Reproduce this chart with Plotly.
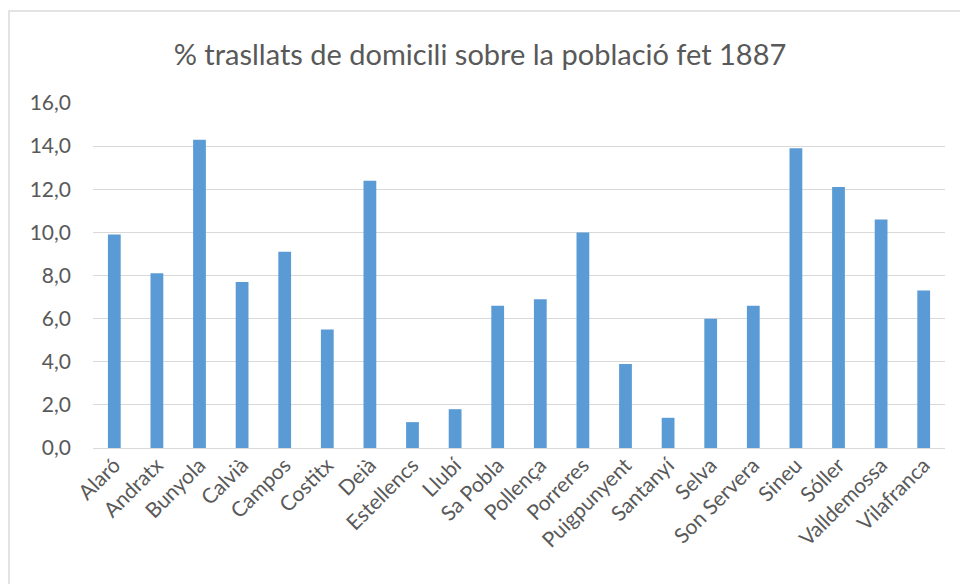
import plotly.graph_objects as go

# Municipis i percentatge de trasllats de domicili (1887)
municipis = [
    "Alaró", "Andratx", "Bunyola", "Calvià", "Campos", "Costitx", "Deià",
    "Estellencs", "Llubí", "Sa Pobla", "Pollença", "Porreres", "Puigpunyent",
    "Santanyí", "Selva", "Son Servera", "Sineu", "Sóller", "Valldemossa",
    "Vilafranca",
]
percentatges = [
    9.9, 8.1, 14.3, 7.7, 9.1, 5.5, 12.4, 1.2, 1.8, 6.6, 6.9, 10.0, 3.9,
    1.4, 6.0, 6.6, 13.9, 12.1, 10.6, 7.3,
]
y_ticks = [0, 2, 4, 6, 8, 10, 12, 14, 16]

FONT = "Lato"
TEXT_COLOR = "#595959"
GRID_COLOR = "#d9d9d9"

fig = go.Figure(
    go.Bar(
        x=municipis,
        y=percentatges,
        marker=dict(color="#5b9bd5", line=dict(width=0)),
        hoverinfo="x+y",
    )
)

fig.update_layout(
    width=960,
    height=584,
    margin=dict(l=93, r=15, t=103, b=136),
    paper_bgcolor="white",
    plot_bgcolor="white",
    separators=", ",
    bargap=0.7,
    showlegend=False,
    title=dict(
        text="% trasllats de domicili sobre la població fet 1887",
        x=0.5,
        xanchor="center",
        y=1 - 55 / 584,
        yanchor="middle",
        font=dict(family=FONT, size=29, color=TEXT_COLOR),
    ),
    font=dict(family=FONT, size=21, color=TEXT_COLOR),
)

fig.update_xaxes(
    tickangle=-45,
    autotickangles=[-45],
    showgrid=False,
    showline=False,
    ticks="",
    tickfont=dict(family=FONT, size=21, color=TEXT_COLOR),
)

fig.update_yaxes(
    range=[0, 16],
    tickvals=y_ticks,
    tickformat=".1f",
    showgrid=True,
    gridcolor=GRID_COLOR,
    gridwidth=1,
    zeroline=True,
    zerolinecolor=GRID_COLOR,
    zerolinewidth=1,
    showline=False,
    ticks="",
    ticklabelstandoff=21,
    tickfont=dict(family=FONT, size=21, color=TEXT_COLOR),
)

# Marc del gràfic
fig.add_shape(
    type="rect",
    xref="paper",
    yref="paper",
    x0=(9 - 93) / 852,
    x1=1.2,
    y0=-0.6,
    y1=(448.3 - 11) / 345.3,
    line=dict(color="#e3e3e3", width=2),
    fillcolor="rgba(0,0,0,0)",
    layer="below",
)

fig.write_html("out.html")
